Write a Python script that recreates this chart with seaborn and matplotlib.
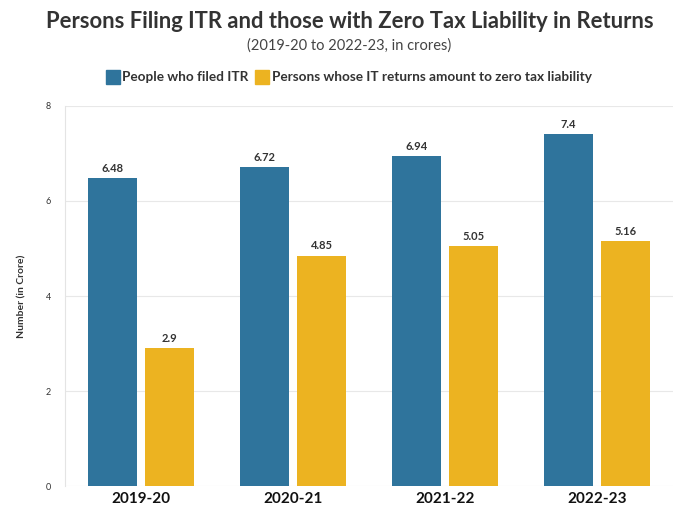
import matplotlib
matplotlib.use("Agg")
import matplotlib.pyplot as plt
import seaborn as sns
import pandas as pd

years = ["2019-20", "2020-21", "2021-22", "2022-23"]
filed_itr = [6.48, 6.72, 6.94, 7.4]
zero_tax = [2.9, 4.85, 5.05, 5.16]
series_names = ["People who filed ITR", "Persons whose IT returns amount to zero tax liability"]
colors = ["#2f749c", "#ecb321"]

df = pd.DataFrame({
    "year": years * 2,
    "value": filed_itr + zero_tax,
    "series": [series_names[0]] * 4 + [series_names[1]] * 4,
})

sns.set_theme(style="white")
plt.rcParams['font.family'] = ['Lato', 'DejaVu Sans']

fig = plt.figure(figsize=(6.99, 5.13), dpi=100)
ax = fig.add_axes([0.093, 0.0526, 0.87, 0.7408])

sns.barplot(data=df, x="year", y="value", hue="series", palette=colors,
            width=0.75, gap=0.14, ax=ax, legend=False, saturation=1, linewidth=0)

for cont in ax.containers:
    labels = [("%g" % b.get_height()) for b in cont]
    ax.bar_label(cont, labels=labels, padding=3, fontsize=8, fontweight='bold', color='#333333')

ax.set_ylim(0, 8)
ax.set_yticks([0, 2, 4, 6, 8])
ax.set_xlabel("")
ax.set_ylabel("Number (in Crore)", fontsize=7.5, fontweight='bold', color='#333333', labelpad=14)
ax.tick_params(axis='y', labelsize=6.5, colors='#333333', length=4, color='#dddddd', pad=6)
ax.tick_params(axis='x', labelsize=11, length=0, pad=4)
for t in ax.get_xticklabels():
    t.set_fontweight('bold')
    t.set_color('#111111')
ax.grid(axis='y', color='#e8e8e8', linewidth=0.8)
ax.set_axisbelow(True)
for s in ['top', 'right', 'bottom']:
    ax.spines[s].set_visible(False)
ax.spines['left'].set_color('#e4e4e4')
ax.spines['left'].set_linewidth(0.8)

fig.text(0.5, 0.958, "Persons Filing ITR and those with Zero Tax Liability in Returns",
         ha='center', va='center', fontsize=15.8, fontweight='bold', color='#333333')
fig.text(0.5, 0.912, "(2019-20 to 2022-23, in crores)", ha='center', va='center',
         fontsize=10.5, color='#444444')

from matplotlib.lines import Line2D
handles = [Line2D([0], [0], marker='s', color='none', markerfacecolor=c, markeredgecolor=c,
                  markersize=10) for c in colors]
fig.legend(handles, series_names, loc='center', bbox_to_anchor=(0.5, 0.849), ncol=2,
           frameon=False, handlelength=0.8, handletextpad=0.3, columnspacing=0.6,
           prop={'weight': 'bold', 'size': 9.8})
for t in fig.legends[0].get_texts():
    t.set_color('#333333')

fig.savefig("out.png", dpi=100)
